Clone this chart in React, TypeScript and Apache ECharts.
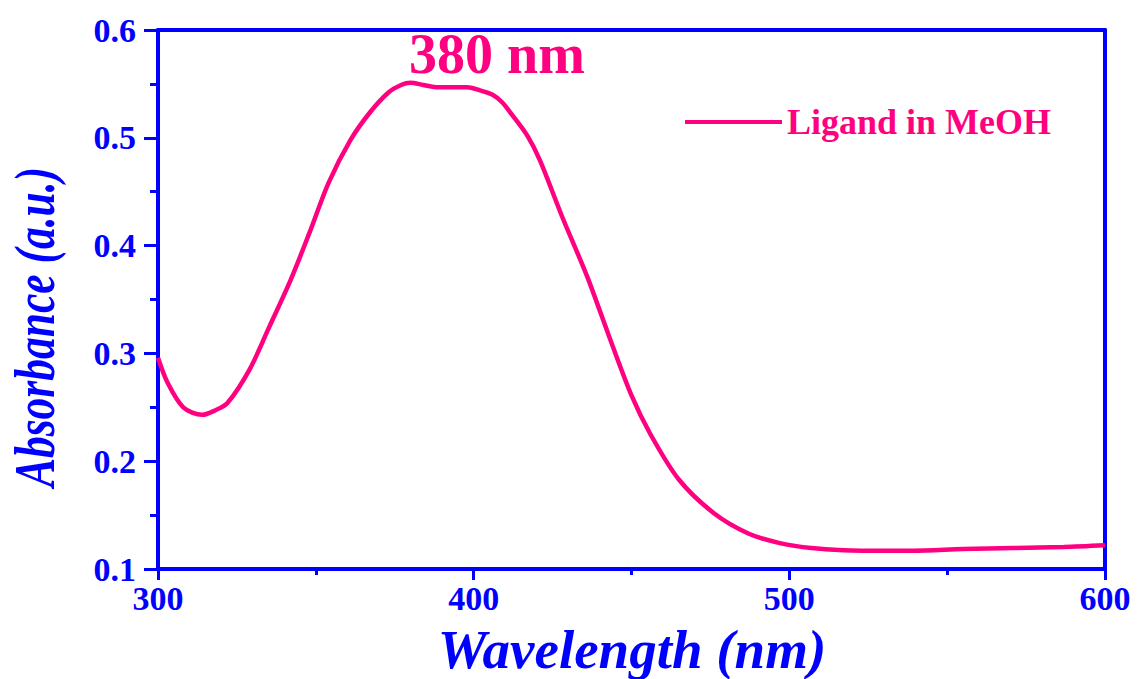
import React, { useEffect, useRef } from "react";
import * as echarts from "echarts";

const wavelengths = [300, 303, 308, 314, 318, 322, 329, 335, 342, 348, 354, 361, 367, 373, 377, 380, 384, 388, 393, 398, 402, 406, 409, 412, 417, 421, 428, 436, 443, 450, 456, 465, 476, 487, 497, 507, 523, 539, 555, 571, 587, 600];
const absorbance = [0.296, 0.273, 0.25, 0.243, 0.247, 0.254, 0.285, 0.323, 0.368, 0.412, 0.458, 0.498, 0.523, 0.542, 0.549, 0.551, 0.549, 0.547, 0.547, 0.547, 0.544, 0.54, 0.533, 0.522, 0.502, 0.479, 0.427, 0.371, 0.315, 0.261, 0.225, 0.183, 0.152, 0.133, 0.124, 0.1195, 0.117, 0.117, 0.1185, 0.1195, 0.1204, 0.122];
const seriesName = "Ligand in MeOH";
const peakLabel = "380 nm";
const xTitle = "Wavelength (nm)";
const yTitle = "Absorbance (a.u.)";

const BLUE = "#0000FF";
const PINK = "#FF0080";
const FONT = "'Liberation Serif', 'Times New Roman', serif";

export default function App() {
  const ref = useRef<HTMLDivElement>(null);
  useEffect(() => {
    if (!ref.current) return;
    const chart = echarts.init(ref.current, null, { renderer: "svg" });
    const data = wavelengths.map((w, i) => [w, absorbance[i]]);
    chart.setOption({
      animation: false,
      backgroundColor: "#fff",
      grid: { left: 158, top: 30, right: 33, bottom: 110, containLabel: false },
      legend: {
        show: true,
        left: 680,
        top: 99,
        itemWidth: 97,
        itemHeight: 4,
        itemGap: 8,
        icon: "rect",
        data: [{ name: seriesName, icon: "rect", itemStyle: { color: PINK } }],
        textStyle: { color: PINK, fontFamily: FONT, fontWeight: "bold", fontSize: 36 },
      },
      xAxis: [
        {
          type: "value",
          min: 300,
          max: 600,
          interval: 100,
          axisLine: { show: true, onZero: false, lineStyle: { color: BLUE, width: 4 } },
          axisTick: { show: true, inside: false, length: 11, lineStyle: { color: BLUE, width: 3 } },
          minorTick: { show: true, splitNumber: 2, length: 6, lineStyle: { color: BLUE, width: 3 } },
          splitLine: { show: false },
          axisLabel: { color: BLUE, fontFamily: FONT, fontWeight: "bold", fontSize: 34, margin: 12 },
        },
        {
          type: "value",
          position: "top",
          min: 300,
          max: 600,
          axisLine: { show: true, onZero: false, lineStyle: { color: BLUE, width: 4 } },
          axisTick: { show: false },
          axisLabel: { show: false },
          splitLine: { show: false },
        },
      ],
      yAxis: [
        {
          type: "value",
          min: 0.1,
          max: 0.6,
          interval: 0.1,
          axisLine: { show: true, onZero: false, lineStyle: { color: BLUE, width: 4 } },
          axisTick: { show: true, inside: false, length: 14, lineStyle: { color: BLUE, width: 3 } },
          minorTick: { show: true, splitNumber: 2, length: 8, lineStyle: { color: BLUE, width: 3 } },
          splitLine: { show: false },
          axisLabel: {
            color: BLUE,
            fontFamily: FONT,
            fontWeight: "bold",
            fontSize: 34,
            margin: 22,
            formatter: (v: number) => v.toFixed(1),
          },
        },
        {
          type: "value",
          position: "right",
          min: 0.1,
          max: 0.6,
          axisLine: { show: true, onZero: false, lineStyle: { color: BLUE, width: 4 } },
          axisTick: { show: false },
          axisLabel: { show: false },
          splitLine: { show: false },
        },
      ],
      series: [
        {
          name: seriesName,
          type: "line",
          data,
          smooth: 0.3,
          showSymbol: false,
          symbol: "none",
          lineStyle: { color: PINK, width: 4.5 },
          itemStyle: { color: PINK },
          z: 3,
        },
      ],
      graphic: [
        {
          type: "text",
          x: 409,
          y: 54,
          style: {
            text: peakLabel,
            fill: PINK,
            font: `bold 56px ${FONT}`,
            align: "left",
            verticalAlign: "middle",
          },
        },
        {
          type: "text",
          x: 632,
          y: 649,
          style: {
            text: xTitle,
            fill: BLUE,
            font: `italic bold 55px ${FONT}`,
            align: "center",
            verticalAlign: "middle",
          },
        },
        {
          type: "text",
          x: 34,
          y: 327,
          rotation: Math.PI / 2,
          scaleX: 0.75,
          style: {
            text: yTitle,
            fill: BLUE,
            font: `italic bold 58px ${FONT}`,
            align: "center",
            verticalAlign: "middle",
          },
        },
      ],
    });
    return () => chart.dispose();
  }, []);
  return <div ref={ref} style={{ position: "fixed", left: 0, top: 0, width: 1138, height: 679 }} />;
}
